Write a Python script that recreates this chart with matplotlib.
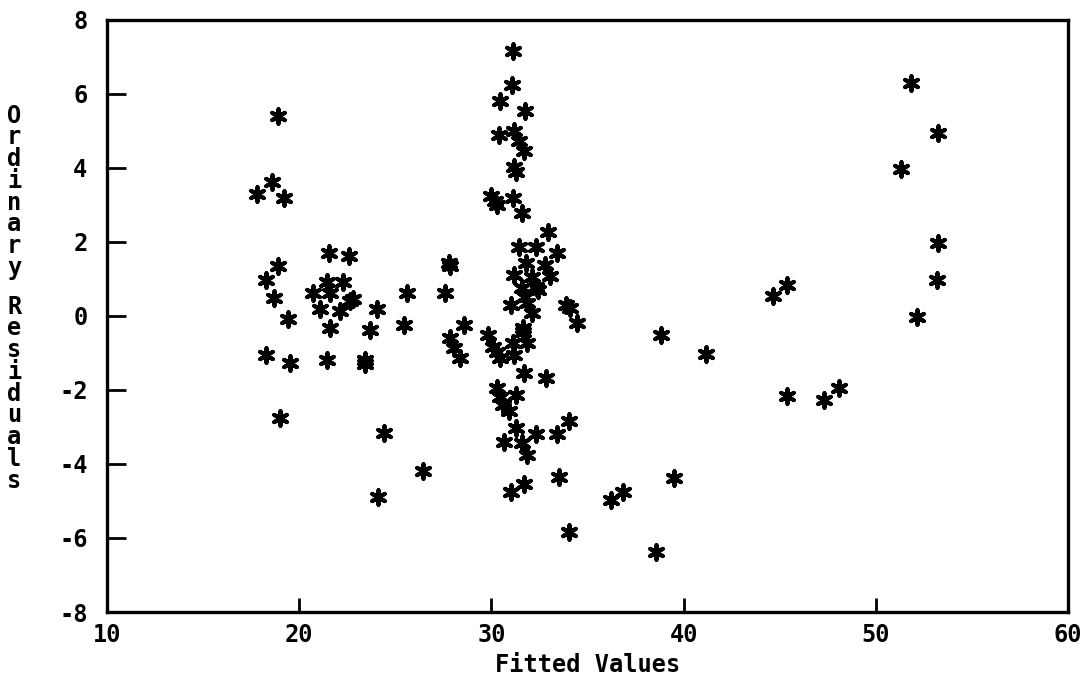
import matplotlib
matplotlib.use("Agg")
import matplotlib.pyplot as plt

# fitted values vs ordinary residuals
fitted = [
    18.9, 18.6, 17.8, 19.2, 21.55, 22.6, 18.9, 18.3, 21.45, 22.3,
    20.7, 21.6, 22.8, 22.65, 18.7, 25.6, 21.1, 22.1, 24.05, 19.4,
    21.6, 23.7, 25.45, 18.3, 19.5, 21.45, 23.4, 23.45, 19.0, 24.4,
    24.1, 26.45,
    27.8, 27.85, 27.6, 27.85, 28.05, 28.35, 28.6, 29.8, 30.1, 30.3,
    30.45, 30.0, 30.2, 30.3, 31.1, 31.05, 30.45, 31.75, 30.4, 31.2,
    31.45, 31.7, 31.2, 31.3, 31.1, 31.6, 32.95, 31.45, 32.3, 33.4,
    31.8, 32.8, 31.2, 32.1, 33.05, 32.3, 31.6, 32.45, 31.75, 31.0,
    31.85, 33.9, 34.1, 34.45, 32.1, 31.65, 31.1, 31.2, 31.65, 31.85,
    31.7, 32.85, 30.3, 30.45, 30.6, 30.9, 31.3, 31.3, 32.3, 33.4,
    34.05, 30.65, 31.6, 31.85, 33.5, 31.7, 31.0, 34.05,
    44.65, 38.8, 41.15, 39.5, 36.85, 36.2, 38.55, 51.85, 53.25, 51.3,
    53.25, 53.2, 52.15, 45.4, 45.4, 47.3, 48.1,
]
residuals = [
    5.40, 3.62, 3.30, 3.19, 1.70, 1.62, 1.35, 0.97, 0.92, 0.92,
    0.62, 0.62, 0.46, 0.40, 0.49, 0.62, 0.19, 0.14, 0.19, -0.08,
    -0.32, -0.38, -0.24, -1.05, -1.27, -1.19, -1.20, -1.30, -2.76, -3.16,
    -4.90, -4.19,
    1.43, 1.36, 0.62, -0.59, -0.86, -1.13, -0.24, -0.51, -0.83, -0.97,
    -1.13, 3.24, 3.12, 3.00, 7.16, 6.24, 5.81, 5.54, 4.89, 5.00,
    4.73, 4.46, 4.03, 3.88, 3.19, 2.78, 2.27, 1.86, 1.86, 1.70,
    1.43, 1.38, 1.11, 1.05, 1.08, 0.78, 0.76, 0.70, 0.51, 0.30,
    0.35, 0.30, 0.22, -0.19, 0.08, -0.32, -0.73, -1.05, -0.43, -0.73,
    -1.54, -1.68, -1.95, -2.19, -2.41, -2.57, -2.14, -3.03, -3.19, -3.19,
    -2.84, -3.41, -3.43, -3.76, -4.35, -4.54, -4.76, -5.84,
    0.54, -0.51, -1.03, -4.38, -4.76, -4.97, -6.38, 6.30, 4.95, 3.97,
    1.97, 0.97, -0.03, 0.84, -2.16, -2.27, -1.95,
]

x_ticks = [10, 20, 30, 40, 50, 60]
y_ticks = [-8, -6, -4, -2, 0, 2, 4, 6, 8]
x_label = "Fitted Values"
y_label = "Ordinary Residuals"

plt.rcParams['font.family'] = ['DejaVu Sans Mono']
plt.rcParams['font.weight'] = 'bold'
plt.rcParams['axes.unicode_minus'] = False

fig = plt.figure(figsize=(10.87, 6.8), dpi=100)
ax = fig.add_axes([0.0984, 0.1, 0.8841, 0.8706])

# six-armed asterisk markers
ax.scatter(fitted, residuals, marker=(6, 2, 0), s=110, c='black',
           linewidths=2.9, zorder=3)

ax.set_xlim(10, 60)
ax.set_ylim(-8, 8)
ax.set_xticks(x_ticks)
ax.set_yticks(y_ticks)
ax.set_xticklabels([str(t) for t in x_ticks])
ax.set_yticklabels([str(t) for t in y_ticks])
ax.tick_params(axis='both', direction='in', width=2, labelsize=17, colors='black')
ax.tick_params(axis='x', length=10, pad=8)
ax.tick_params(axis='y', length=14, pad=14)
for spine in ax.spines.values():
    spine.set_linewidth(2.4)

ax.set_xlabel(x_label, fontsize=17, fontweight='bold', labelpad=4)

# vertical stacked y label, one upright character per line
ypos = 0.83
for ch in y_label:
    if ch == " ":
        ypos -= 0.025
        continue
    fig.text(0.013, ypos, ch, fontsize=17, fontweight='bold',
             ha='center', va='center')
    ypos -= 0.032

fig.savefig("out.png", dpi=100)
